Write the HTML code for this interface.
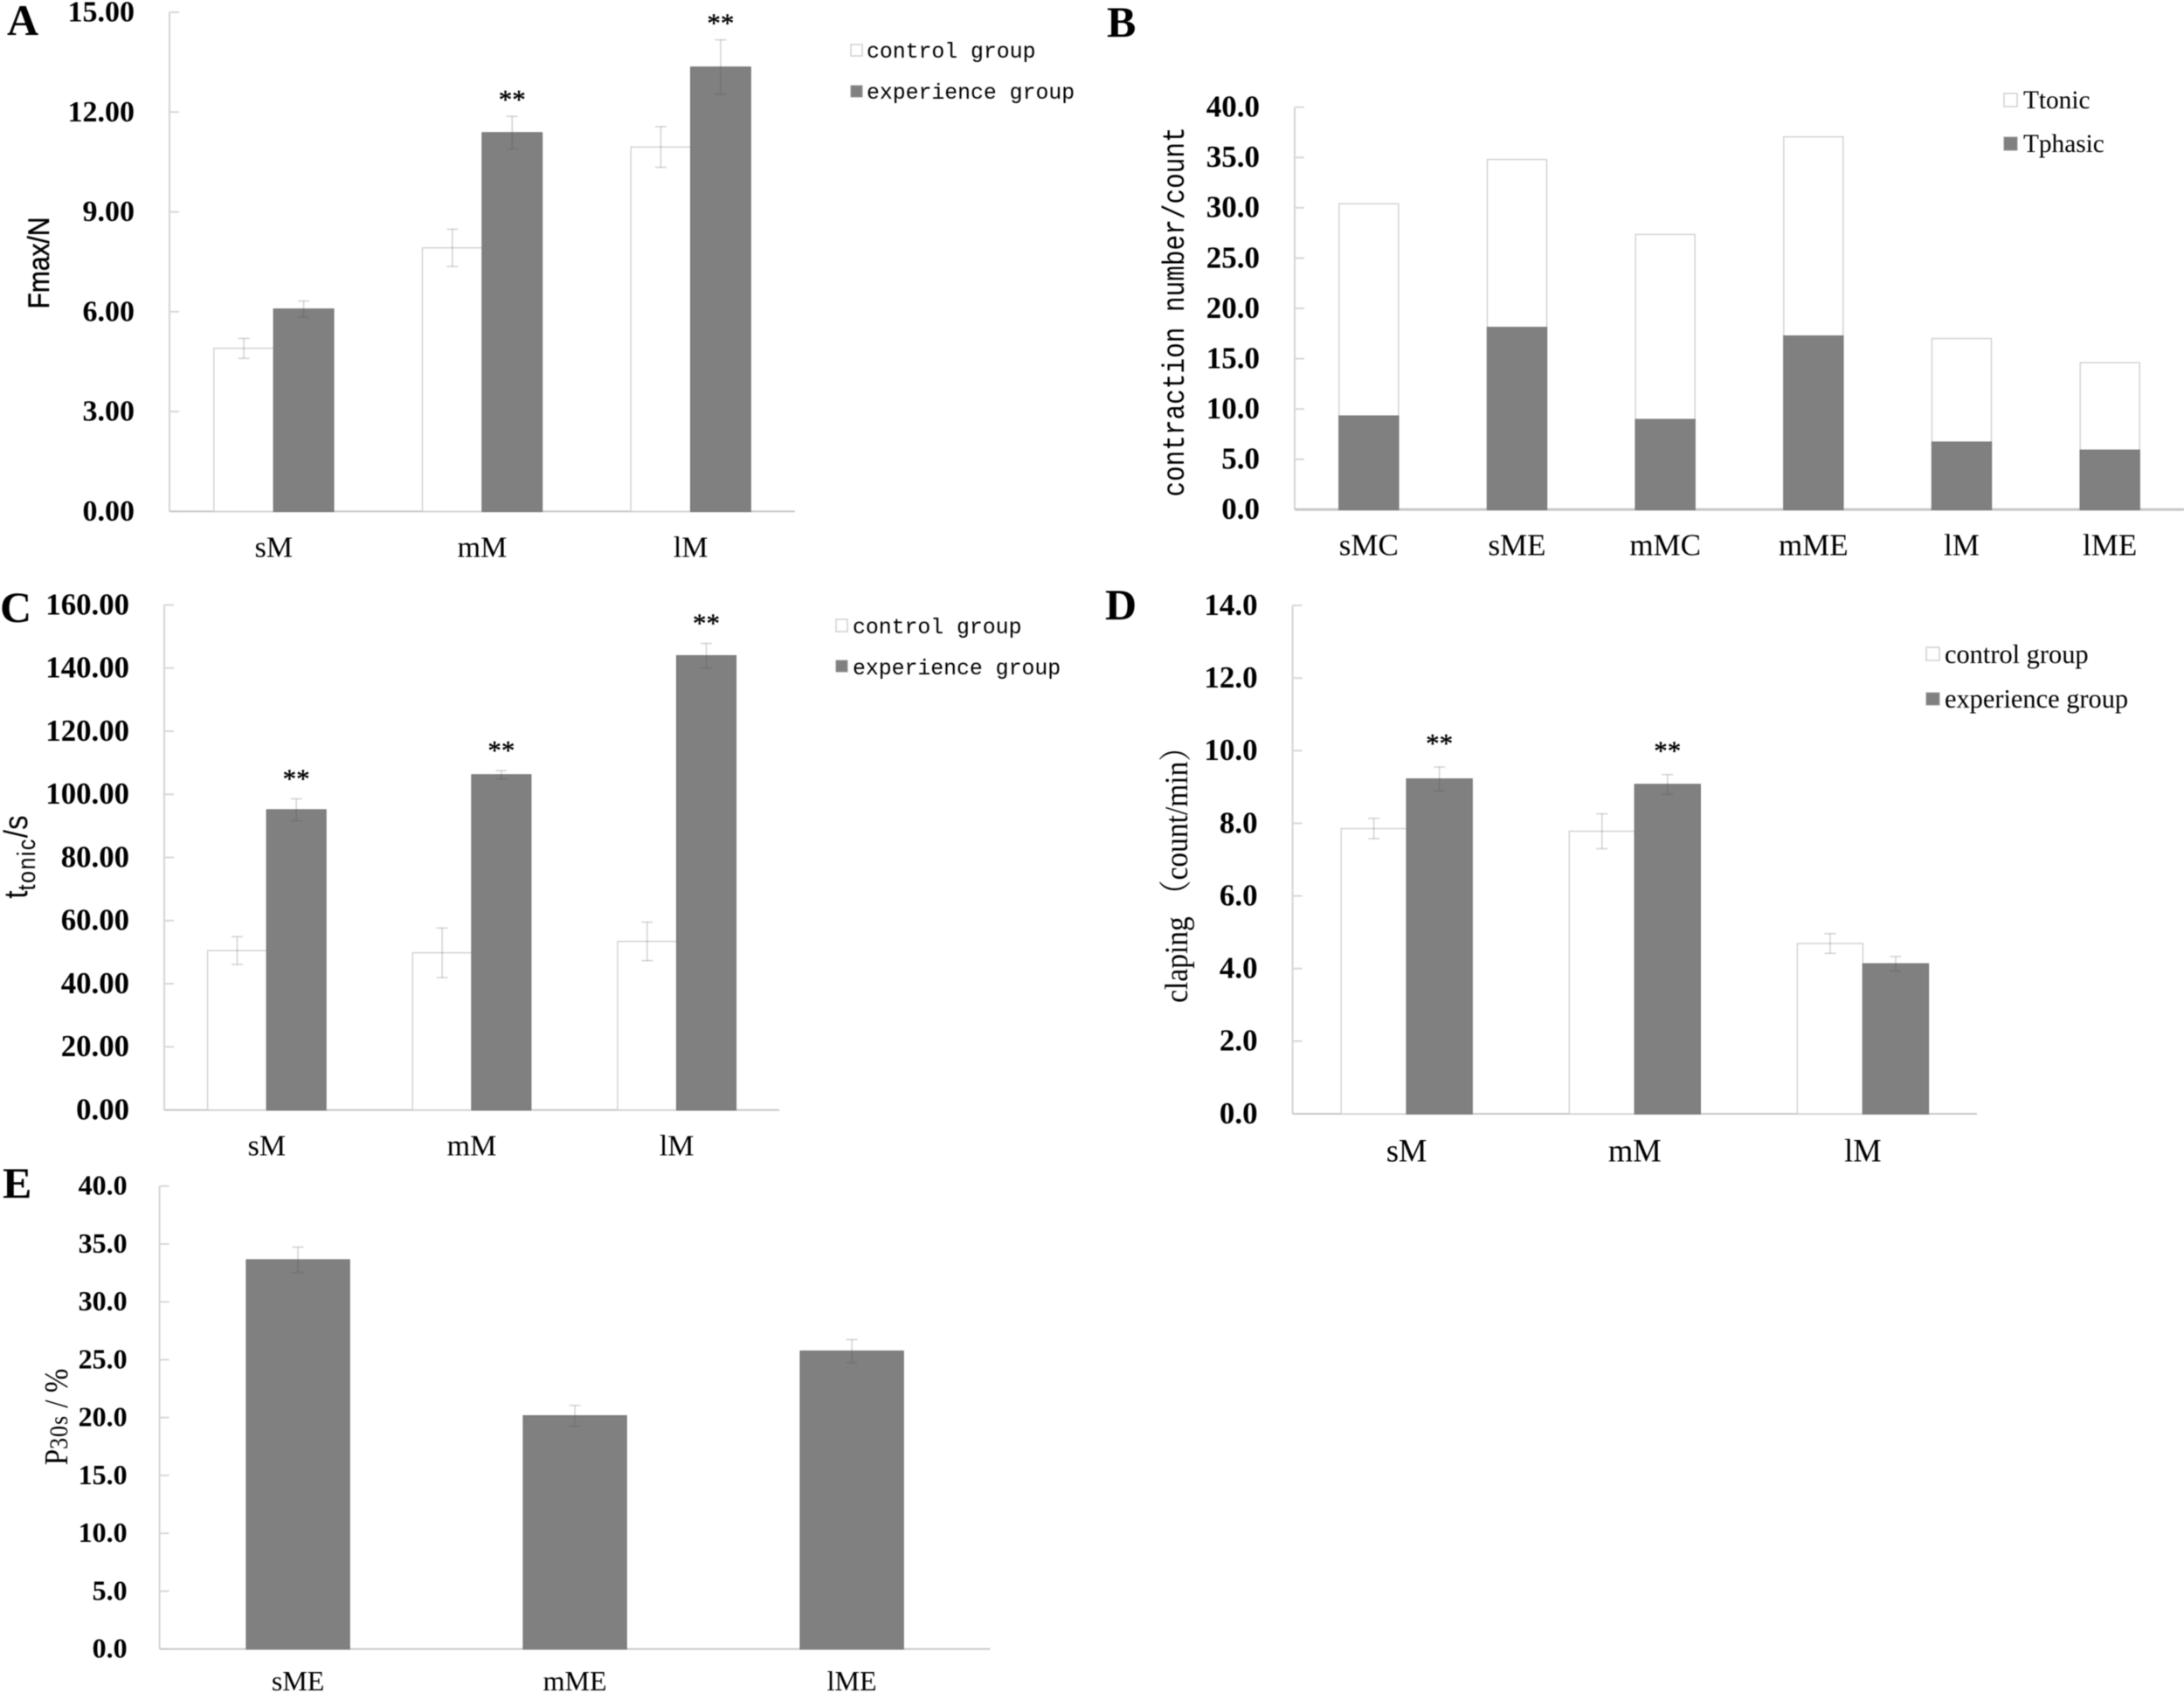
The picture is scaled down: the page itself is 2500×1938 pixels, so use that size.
<!DOCTYPE html>
<html lang="en">
<head>
<meta charset="utf-8">
<title>Muscle contraction results, panels A to E</title>
<style>
html,body{margin:0;padding:0;background:#fff;}
svg{display:block;filter:blur(0.5px);}
text{fill:#000;}
.serif{font-family:"Liberation Serif",serif;}
.mono{font-family:"Liberation Mono",monospace;}
.sans{font-family:"Liberation Sans",sans-serif;}
.letter{font-family:"Liberation Serif",serif;font-weight:bold;font-size:50px;}
.sw-c{fill:#fff;stroke:#d0d0d0;stroke-width:1.5;}
.sw-e{fill:#808080;stroke:#999;stroke-width:1;}
</style>
</head>
<body>
<svg id="figure" xmlns="http://www.w3.org/2000/svg" width="2500" height="1938" viewBox="0 0 2500 1938">
  <rect x="0" y="0" width="2500" height="1938" fill="#fff"/>

  <g id="panel-a">
    <text class="letter" x="8" y="40">A</text>
    <text class="sans" font-size="30" text-anchor="middle" stroke="#000" stroke-width="0.4" transform="translate(56,301) rotate(-90) scale(1,1.15)">Fmax/N</text>
    <g>
      <rect class="sw-c" x="974" y="51" width="13" height="13"/>
      <text class="mono" font-size="24.8" x="992" y="66">control group</text>
      <rect class="sw-e" x="974" y="98" width="13" height="13"/>
      <text class="mono" font-size="24.8" x="992" y="113">experience group</text>
    </g>
  </g>

  <g id="panel-b">
    <text class="letter" x="1267" y="42">B</text>
    <text class="mono" font-size="29.4" text-anchor="middle" transform="translate(1355,357) rotate(-90) scale(1,1.2)">contraction number/count</text>
    <g>
      <rect class="sw-c" x="2294" y="107" width="15" height="15"/>
      <text class="serif" font-size="29.3" x="2316" y="124">Ttonic</text>
      <rect class="sw-e" x="2294" y="157" width="15" height="15"/>
      <text class="serif" font-size="29.3" x="2316" y="174">Tphasic</text>
    </g>
  </g>

  <g id="panel-c">
    <text class="letter" x="0" y="712">C</text>
    <text class="sans" font-size="33" text-anchor="middle" transform="translate(31,981) rotate(-90) scale(1,1.15)">t<tspan font-size="25" dy="8" letter-spacing="1.5">tonic</tspan><tspan dy="-8">/s</tspan></text>
    <g>
      <rect class="sw-c" x="957" y="709" width="13" height="14"/>
      <text class="mono" font-size="24.8" x="976" y="725">control group</text>
      <rect class="sw-e" x="957" y="756" width="13" height="13"/>
      <text class="mono" font-size="24.8" x="976" y="772">experience group</text>
    </g>
  </g>

  <g id="panel-d">
    <text class="letter" x="1265" y="709">D</text>
    <text font-size="33.5" text-anchor="middle" transform="translate(1359,993) rotate(-90) scale(1,1.12)" font-family="'Liberation Serif','Noto Serif CJK SC',serif">claping （count/min）</text>
    <g>
      <rect class="sw-c" x="2205" y="741" width="15" height="15"/>
      <text class="serif" font-size="30.4" x="2226" y="759">control group</text>
      <rect class="sw-e" x="2205" y="793" width="15" height="14"/>
      <text class="serif" font-size="30.4" x="2226" y="810">experience group</text>
    </g>
  </g>

  <g id="panel-e">
    <text class="letter" x="3" y="1371">E</text>
    <text class="serif" font-size="33" text-anchor="middle" transform="translate(77,1622) rotate(-90) scale(1,1.15)">P<tspan font-size="26" letter-spacing="1">30s</tspan> / %</text>
  </g>
</svg>

<script>
// Panel A: Fmax/N
const aCategories = ['sM', 'mM', 'lM'];
const aTicks = ['0.00', '3.00', '6.00', '9.00', '12.00', '15.00'];
const aControl = [4.9, 7.92, 10.95];
const aExperience = [6.08, 11.38, 13.35];
const aControlErr = [0.3, 0.56, 0.61];
const aExperienceErr = [0.24, 0.49, 0.82];
const aSignificant = [false, true, true];

// Panel B: contraction number/count (stacked)
const bCategories = ['sMC', 'sME', 'mMC', 'mME', 'lM', 'lME'];
const bTicks = ['0.0', '5.0', '10.0', '15.0', '20.0', '25.0', '30.0', '35.0', '40.0'];
const bTphasic = [9.3, 18.1, 8.95, 17.25, 6.7, 5.9];
const bTtonic = [21.1, 16.7, 18.4, 19.8, 10.3, 8.7];

// Panel C: t-tonic/s
const cCategories = ['sM', 'mM', 'lM'];
const cTicks = ['0.00', '20.00', '40.00', '60.00', '80.00', '100.00', '120.00', '140.00', '160.00'];
const cControl = [50.5, 49.8, 53.4];
const cExperience = [95.1, 106.2, 143.9];
const cControlErr = [4.4, 7.85, 6.1];
const cExperienceErr = [3.5, 1.3, 3.9];
const cSignificant = [true, true, true];

// Panel D: claping (count/min)
const dCategories = ['sM', 'mM', 'lM'];
const dTicks = ['0.0', '2.0', '4.0', '6.0', '8.0', '10.0', '12.0', '14.0'];
const dControl = [7.855, 7.78, 4.69];
const dExperience = [9.22, 9.07, 4.13];
const dControlErr = [0.28, 0.48, 0.27];
const dExperienceErr = [0.33, 0.27, 0.2];
const dSignificant = [true, true, false];

// Panel E: P30s/%
const eCategories = ['sME', 'mME', 'lME'];
const eTicks = ['0.0', '5.0', '10.0', '15.0', '20.0', '25.0', '30.0', '35.0', '40.0'];
const eValues = [33.63, 20.15, 25.74];
const eErr = [1.1, 0.9, 1.0];

const NS = 'http://www.w3.org/2000/svg';
const GRAY = '#808080';
const EDGE = '#d0d0d0';

function make(tag, attrs, parent) {
  const node = document.createElementNS(NS, tag);
  for (const key in attrs) node.setAttribute(key, attrs[key]);
  parent.appendChild(node);
  return node;
}

function yScale(layout, ticks) {
  const max = parseFloat(ticks[ticks.length - 1]);
  return v => layout.y0 - (v / max) * (layout.y0 - layout.yTop);
}

function xCenter(layout, count, i) {
  return layout.x0 + (layout.x1 - layout.x0) * (i + 0.5) / count;
}

function drawAxes(parent, key, layout, ticks, categories) {
  const y = yScale(layout, ticks);
  const yAxis = make('line', {x1: layout.x0, x2: layout.x0, y1: layout.yTop, y2: layout.y0, stroke: '#d4d4d4', 'stroke-width': 2}, parent);
  
  
  ticks.forEach(t => {
    const v = parseFloat(t);
    const mark = make('line', {x1: layout.x0, x2: layout.x0 + 11, y1: y(v), y2: y(v), stroke: '#d8d8d8', 'stroke-width': 2}, parent);
    
    
    const label = make('text', {x: layout.x0 - layout.tickGap, y: y(v) + layout.tickSize * 0.31, 'text-anchor': 'end', 'font-size': layout.tickSize, 'font-weight': 'bold', class: 'serif'}, parent);
    label.textContent = t;
    
    
  });
  const xAxis = make('line', {x1: layout.x0, x2: layout.x1, y1: layout.y0, y2: layout.y0, stroke: '#c8c8c8', 'stroke-width': layout.xAxisWidth || 2}, parent);
  
  
  categories.forEach((c, i) => {
    const label = make('text', {x: xCenter(layout, categories.length, i), y: layout.labelY + layout.labelSize * 0.31, 'text-anchor': 'middle', 'font-size': layout.labelSize, class: 'serif'}, parent);
    label.textContent = c;
    
    
  });
}

function drawBar(parent, name, x, w, yTop, yBottom, fill, stroke) {
  const bar = make('rect', {x: x, y: yTop, width: w, height: yBottom - yTop, fill: fill, stroke: stroke, 'stroke-width': 1.4}, parent);
  
  
  return bar;
}

function drawError(parent, name, cx, yHigh, yLow) {
  const g = make('g', {stroke: 'rgb(80,80,80)', 'stroke-opacity': 0.24, 'stroke-width': 1.6, fill: 'none'}, parent);
  
  
  make('line', {x1: cx, x2: cx, y1: yHigh, y2: yLow}, g);
  make('line', {x1: cx - 6.5, x2: cx + 6.5, y1: yHigh, y2: yHigh}, g);
  make('line', {x1: cx - 6.5, x2: cx + 6.5, y1: yLow, y2: yLow}, g);
}

function drawGrouped(key, layout, ticks, categories, control, experience, controlErr, experienceErr, significant) {
  const parent = document.getElementById('panel-' + key);
  const y = yScale(layout, ticks);
  drawAxes(parent, key, layout, ticks, categories);
  categories.forEach((c, i) => {
    const cx = xCenter(layout, categories.length, i);
    const w = layout.barWidth;
    drawBar(parent, 'bar-control-' + key + '-' + c, cx - w, w, y(control[i]), layout.y0, '#fff', EDGE);
    drawBar(parent, 'bar-experience-' + key + '-' + c, cx, w, y(experience[i]), layout.y0, GRAY, '#7a7a7a');
    drawError(parent, 'error-bar-control-' + key + '-' + c, cx - w / 2, y(control[i] + controlErr[i]), y(control[i] - controlErr[i]));
    drawError(parent, 'error-bar-experience-' + key + '-' + c, cx + w / 2, y(experience[i] + experienceErr[i]), y(experience[i] - experienceErr[i]));
    if (significant[i]) {
      const star = make('text', {x: cx + w / 2, y: y(experience[i] + experienceErr[i]) - layout.starGap + 14, 'text-anchor': 'middle', 'font-size': 31, stroke: '#000', 'stroke-width': 0.4, class: 'serif'}, parent);
      star.textContent = '**';
      
      
    }
  });
}

function drawStacked(key, layout, ticks, categories, lower, upper) {
  const parent = document.getElementById('panel-' + key);
  const y = yScale(layout, ticks);
  drawAxes(parent, key, layout, ticks, categories);
  categories.forEach((c, i) => {
    const cx = xCenter(layout, categories.length, i);
    const w = layout.barWidth;
    drawBar(parent, 'bar-ttonic-' + c, cx - w / 2, w, y(lower[i] + upper[i]), y(lower[i]), '#fff', EDGE);
    drawBar(parent, 'bar-tphasic-' + c, cx - w / 2, w, y(lower[i]), layout.y0, GRAY, '#7a7a7a');
  });
}

function drawSingle(key, layout, ticks, categories, values, errors) {
  const parent = document.getElementById('panel-' + key);
  const y = yScale(layout, ticks);
  drawAxes(parent, key, layout, ticks, categories);
  categories.forEach((c, i) => {
    const cx = xCenter(layout, categories.length, i);
    const w = layout.barWidth;
    drawBar(parent, 'bar-' + key + '-' + c, cx - w / 2, w, y(values[i]), layout.y0, GRAY, '#7a7a7a');
    drawError(parent, 'error-bar-' + key + '-' + c, cx, y(values[i] + errors[i]), y(values[i] - errors[i]));
  });
}

drawGrouped('a', {x0: 194, x1: 910, yTop: 14, y0: 585.4, barWidth: 68.5, tickGap: 40, tickSize: 34, labelY: 627, labelSize: 34, starGap: 23},
  aTicks, aCategories, aControl, aExperience, aControlErr, aExperienceErr, aSignificant);
drawStacked('b', {x0: 1482, x1: 2500, yTop: 122.7, y0: 583.3, barWidth: 68, tickGap: 40, tickSize: 35, labelY: 624.5, labelSize: 35, xAxisWidth: 3},
  bTicks, bCategories, bTphasic, bTtonic);
drawGrouped('c', {x0: 188, x1: 892, yTop: 692.5, y0: 1270.6, barWidth: 67.7, tickGap: 40, tickSize: 34.8, labelY: 1312, labelSize: 34, starGap: 27},
  cTicks, cCategories, cControl, cExperience, cControlErr, cExperienceErr, cSignificant);
drawGrouped('d', {x0: 1479.6, x1: 2263, yTop: 693, y0: 1275, barWidth: 75, tickGap: 40, tickSize: 35, labelY: 1318, labelSize: 36.5, starGap: 31},
  dTicks, dCategories, dControl, dExperience, dControlErr, dExperienceErr, dSignificant);
drawSingle('e', {x0: 182.6, x1: 1133.6, yTop: 1357.8, y0: 1887.6, barWidth: 118, tickGap: 37, tickSize: 32, labelY: 1925, labelSize: 32},
  eTicks, eCategories, eValues, eErr);
</script>
</body>
</html>
